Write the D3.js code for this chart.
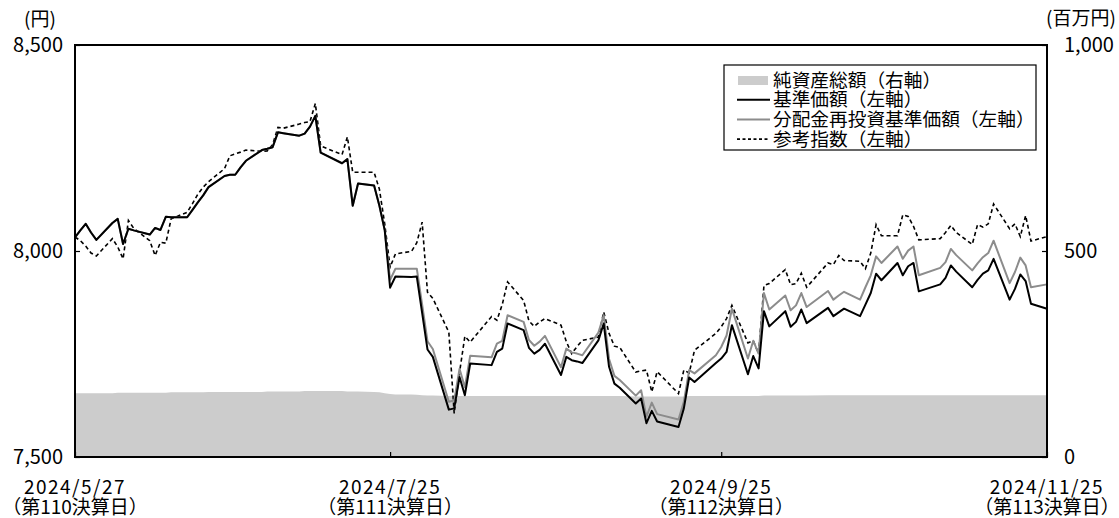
<!DOCTYPE html>
<html>
<head>
<meta charset="utf-8">
<script src="https://cdn.jsdelivr.net/npm/d3@7"></script>
<style>
  body { margin: 0; background: #fff; }
  svg { font-family: "Noto Sans CJK JP", "Noto Sans", sans-serif; }
</style>
</head>
<body>
<svg id="chart" width="1119" height="518"></svg>
<script>
// trading days
const dates = [
  "2024-05-27","2024-05-28","2024-05-29","2024-05-30","2024-05-31",
  "2024-06-03","2024-06-04","2024-06-05","2024-06-06","2024-06-07",
  "2024-06-10","2024-06-11","2024-06-12","2024-06-13","2024-06-14",
  "2024-06-17","2024-06-18","2024-06-19","2024-06-20","2024-06-21",
  "2024-06-24","2024-06-25","2024-06-26","2024-06-27","2024-06-28",
  "2024-07-01","2024-07-02","2024-07-03","2024-07-04","2024-07-05",
  "2024-07-08","2024-07-09","2024-07-10","2024-07-11","2024-07-12",
  "2024-07-16","2024-07-17","2024-07-18","2024-07-19",
  "2024-07-22","2024-07-23","2024-07-24","2024-07-25","2024-07-26",
  "2024-07-29","2024-07-30","2024-07-31",
  "2024-08-01","2024-08-02",
  "2024-08-05","2024-08-06","2024-08-07","2024-08-08","2024-08-09",
  "2024-08-13","2024-08-14","2024-08-15","2024-08-16",
  "2024-08-19","2024-08-20","2024-08-21","2024-08-22","2024-08-23",
  "2024-08-26","2024-08-27","2024-08-28","2024-08-29","2024-08-30",
  "2024-09-02","2024-09-03","2024-09-04","2024-09-05","2024-09-06",
  "2024-09-09","2024-09-10","2024-09-11","2024-09-12","2024-09-13",
  "2024-09-17","2024-09-18","2024-09-19","2024-09-20",
  "2024-09-24","2024-09-25","2024-09-26","2024-09-27",
  "2024-09-30",
  "2024-10-01","2024-10-02","2024-10-03","2024-10-04",
  "2024-10-07","2024-10-08","2024-10-09","2024-10-10","2024-10-11",
  "2024-10-15","2024-10-16","2024-10-17","2024-10-18",
  "2024-10-21","2024-10-22","2024-10-23","2024-10-24","2024-10-25",
  "2024-10-28","2024-10-29","2024-10-30","2024-10-31",
  "2024-11-01",
  "2024-11-05","2024-11-06","2024-11-07","2024-11-08",
  "2024-11-11","2024-11-12","2024-11-13","2024-11-14","2024-11-15",
  "2024-11-18","2024-11-19","2024-11-20","2024-11-21","2024-11-22",
  "2024-11-25"
];

// 基準価額 (yen)
const nav = [
  8033, 8050, 8066, 8045, 8027,
  8068, 8078, 8017, 8054, 8050, 8040, 8056, 8051, 8083, 8082,
  8082, 8100, 8118, 8135, 8155, 8182, 8185, 8185, 8203, 8219,
  8245, 8248, 8252, 8288, 8286, 8280, 8285, 8302, 8328, 8239,
  8213, 8223, 8110, 8164, 8159, 8110, 8050, 7911, 7938, 7937, 7938, 7850,
  7761, 7743, 7615, 7618, 7694, 7650, 7727, 7723, 7755, 7763, 7824,
  7808, 7765, 7751, 7760, 7775, 7699, 7743, 7735, 7732, 7728,
  7783, 7824, 7719, 7678, 7668, 7630, 7642, 7582, 7612, 7586,
  7573, 7618, 7693, 7682, 7728, 7739, 7755, 7820, 7701,
  7745, 7715, 7854, 7817, 7854, 7816, 7828, 7858, 7825,
  7862, 7842, 7851, 7860, 7842, 7870, 7898, 7945, 7929,
  7971, 7941, 7963, 7971,
  7902, 7919, 7935, 7965, 7950, 7912, 7930, 7945, 7953, 7981,
  7882, 7908, 7943, 7927, 7872, 7860
];

// 分配金再投資基準価額 (yen)
const navReinvested = [
  8033, 8050, 8066, 8045, 8027,
  8068, 8078, 8017, 8054, 8050, 8040, 8056, 8051, 8083, 8082,
  8082, 8100, 8118, 8135, 8155, 8182, 8185, 8185, 8203, 8219,
  8245, 8248, 8252, 8288, 8286, 8280, 8285, 8302, 8328, 8239,
  8213, 8223, 8110, 8164, 8159, 8110, 8050, 7930, 7957, 7957, 7957, 7870,
  7781, 7762, 7634, 7637, 7714, 7669, 7746, 7742, 7775, 7782, 7844,
  7828, 7784, 7770, 7780, 7794, 7718, 7763, 7754, 7751, 7747,
  7802, 7844, 7738, 7697, 7687, 7649, 7662, 7598, 7632, 7604,
  7591, 7634, 7711, 7703, 7747, 7767, 7795, 7860, 7739,
  7782, 7751, 7898, 7858, 7892, 7856, 7868, 7898, 7864,
  7903, 7882, 7892, 7901, 7882, 7912, 7941, 7987, 7971,
  8011, 7981, 8001, 8011,
  7941, 7959, 7973, 8005, 7990, 7953, 7970, 7985, 7995, 8025,
  7922, 7949, 7984, 7965, 7912, 7919
];

// 参考指数 (left axis)
const refIndex = [
  8034, 8025, 8012, 7995, 7988,
  8030, 8010, 7981, 8074, 8055, 8025, 7989, 8021, 8019, 8078,
  8094, 8115, 8138, 8155, 8168, 8200, 8231, 8236, 8240, 8245,
  8242, 8243, 8258, 8300, 8298, 8308, 8312, 8314, 8358, 8255,
  8234, 8277, 8191, 8191, 8191, 8150, 8065, 7961, 7993, 7999, 8020, 8070,
  7900, 7885, 7803, 7606, 7705, 7793, 7779, 7841, 7832, 7870, 7925,
  7880, 7830, 7817, 7828, 7836, 7820, 7780, 7751, 7768, 7783,
  7791, 7852, 7800, 7769, 7766, 7706, 7709, 7711, 7658, 7707,
  7654, 7711, 7704, 7759, 7800, 7816, 7836, 7868, 7777,
  7782, 7751, 7916, 7921, 7955, 7918, 7921, 7946, 7912,
  7971, 7967, 7989, 7977, 7975, 7957, 7995, 8064, 8037,
  8037, 8088, 8084, 8060,
  8027, 8030, 8045, 8062, 8045, 8016, 8064, 8058, 8066, 8114,
  8054, 8066, 8035, 8086, 8024, 8035
];

// 純資産総額 (百万円, right axis)
const netAssets = [
  155, 155, 155, 155, 155,
  155, 156, 156, 156, 156, 156, 156, 156, 156, 157,
  157, 157, 157, 157, 158, 158, 158, 158, 158, 158,
  158, 159, 159, 159, 159, 159, 160, 160, 160, 160,
  160, 159, 159, 159, 158, 157, 155, 153, 152, 152, 151, 150,
  149, 149, 148, 148, 148, 148, 148, 148, 148, 148, 148,
  148, 148, 148, 148, 148, 148, 148, 148, 148, 148,
  148, 148, 148, 148, 148, 147, 147, 147, 147, 147,
  147, 147, 148, 148, 148, 148, 148, 148, 148,
  148, 148, 149, 149, 149, 149, 149, 149, 149,
  150, 150, 150, 150, 150, 150, 150, 150, 150,
  150, 150, 150, 150,
  150, 150, 150, 150, 150, 150, 150, 150, 150, 150,
  150, 150, 150, 150, 150, 150
];

const settleDates = ["2024-05-27", "2024-07-25", "2024-09-25", "2024-11-25"];
const settleLabels = ["2024/5/27", "2024/7/25", "2024/9/25", "2024/11/25"];
const settleNames = ["（第110決算日）", "（第111決算日）", "（第112決算日）", "（第113決算日）"];
const leftTicks = [7500, 8000, 8500];
const rightTicks = [0, 500, 1000];
const legendLabels = ["純資産総額（右軸）", "基準価額（左軸）", "分配金再投資基準価額（左軸）", "参考指数（左軸）"];

const parseDate = d3.timeParse("%Y-%m-%d");
const data = dates.map((d, i) => ({
  date: parseDate(d),
  nav: nav[i],
  reinv: navReinvested[i],
  ref: refIndex[i],
  assets: netAssets[i]
}));

const margin = {top: 45, right: 72, bottom: 61, left: 75};
const svg = d3.select("#chart");
const width = +svg.attr("width") - margin.left - margin.right;
const height = +svg.attr("height") - margin.top - margin.bottom;
const g = svg.append("g").attr("transform", "translate(" + margin.left + "," + margin.top + ")");

const x = d3.scaleTime()
  .domain([parseDate(settleDates[0]), parseDate(settleDates[settleDates.length - 1])])
  .range([0, width]);
const yL = d3.scaleLinear().domain([7500, 8500]).range([height, 0]);
const yR = d3.scaleLinear().domain([0, 1000]).range([height, 0]);

// net assets area
const area = d3.area()
  .x(d => x(d.date))
  .y0(height)
  .y1(d => yR(d.assets));
g.append("path").datum(data)
  .attr("fill", "#cccccc")
  .attr("d", area);

function lineOf(key) {
  return d3.line().x(d => x(d.date)).y(d => yL(d[key]));
}

g.append("path").datum(data)
  .attr("fill", "none")
  .attr("stroke", "#000")
  .attr("stroke-width", 1.6)
  .attr("stroke-dasharray", "4,3")
  .attr("d", lineOf("ref"));

g.append("path").datum(data)
  .attr("fill", "none")
  .attr("stroke", "#8c8c8c")
  .attr("stroke-width", 2)
  .attr("stroke-linejoin", "round")
  .attr("d", lineOf("reinv"));

g.append("path").datum(data)
  .attr("fill", "none")
  .attr("stroke", "#000")
  .attr("stroke-width", 2)
  .attr("stroke-linejoin", "round")
  .attr("d", lineOf("nav"));

// axes
const fmt = d3.format(",");
const axisL = g.append("g")
  .call(d3.axisLeft(yL).tickValues(leftTicks).tickSize(-5).tickPadding(12).tickFormat(fmt));
const axisR = g.append("g")
  .attr("transform", "translate(" + width + ",0)")
  .call(d3.axisRight(yR).tickValues(rightTicks).tickSize(-5).tickPadding(17).tickFormat(fmt));
const axisB = g.append("g")
  .attr("transform", "translate(0," + height + ")")
  .call(d3.axisBottom(x).tickValues(settleDates.map(parseDate)).tickSize(-5).tickFormat(""));

[axisL, axisR, axisB].forEach(a => {
  a.select(".domain").remove();
  a.selectAll("line").attr("stroke", "#000").attr("stroke-width", 1.2);
  a.selectAll("text")
    .attr("fill", "#000")
    .style("font-size", "20px")
    .style("font-family", "'Noto Sans CJK JP', sans-serif");
});

// frame
g.append("rect")
  .attr("width", width)
  .attr("height", height)
  .attr("fill", "none")
  .attr("stroke", "#000")
  .attr("stroke-width", 2);

// date labels
settleDates.forEach((d, i) => {
  const cx = x(parseDate(d));
  g.append("text")
    .attr("x", cx).attr("y", height + 37)
    .attr("text-anchor", "middle")
    .style("font-size", "19px")
    .style("letter-spacing", "1.5px")
    .text(settleLabels[i]);
  g.append("text")
    .attr("x", cx).attr("y", height + 57)
    .attr("text-anchor", "middle")
    .style("font-size", "19px")
    .text(settleNames[i]);
});

// unit labels
svg.append("text").attr("x", 40).attr("y", 26)
  .attr("text-anchor", "middle").style("font-size", "19px").text("(円)");
svg.append("text").attr("x", 1081).attr("y", 25)
  .attr("text-anchor", "middle").style("font-size", "19px").text("(百万円)");

// legend
const legend = svg.append("g").attr("transform", "translate(724,65)");
legend.append("rect")
  .attr("width", 312).attr("height", 85)
  .attr("fill", "#fff").attr("stroke", "#000").attr("stroke-width", 1.2);

const rowY = i => 15 + i * 19.7;
legend.append("rect")
  .attr("x", 14).attr("y", rowY(0) - 4)
  .attr("width", 30).attr("height", 9)
  .attr("fill", "#cccccc");
const legendLines = [
  {row: 1, color: "#000", width: 2, dash: null},
  {row: 2, color: "#8c8c8c", width: 2, dash: null},
  {row: 3, color: "#000", width: 1.6, dash: "3,2.5"}
];
legendLines.forEach(l => {
  legend.append("line")
    .attr("x1", 13).attr("x2", 46)
    .attr("y1", rowY(l.row)).attr("y2", rowY(l.row))
    .attr("stroke", l.color)
    .attr("stroke-width", l.width)
    .attr("stroke-dasharray", l.dash);
});
legendLabels.forEach((t, i) => {
  legend.append("text")
    .attr("x", 49).attr("y", rowY(i))
    .attr("dy", "0.36em")
    .style("font-size", "18.7px")
    .text(t);
});
</script>
</body>
</html>
